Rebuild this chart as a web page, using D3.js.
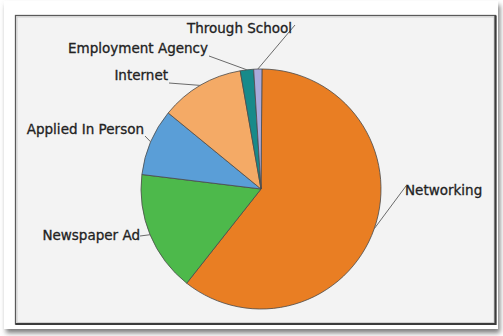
<!DOCTYPE html>
<html>
<head>
<meta charset="utf-8">
<script src="https://cdn.jsdelivr.net/npm/d3@7"></script>
<style>
  html, body { margin: 0; padding: 0; background: #ffffff; }
  svg { display: block; }
  text { font-family: "DejaVu Sans", Verdana, sans-serif; }
</style>
</head>
<body>
<svg id="chart" width="503" height="336"></svg>
<script>
// Ways people found their job (share of respondents, %)
const categories = ["Networking", "Newspaper Ad", "Applied In Person", "Internet", "Employment Agency", "Through School"];
const shares     = [60.5, 16.3, 9.0, 11.3, 1.8, 1.1];
const colors     = ["#e97e23", "#4db94b", "#5a9ed7", "#f4aa66", "#178a8a", "#a9aadb"];

// Label placement: text anchor point (tx, ty), alignment, and leader start (lx, ly)
const labelLayout = [
  { tx: 405, ty: 195, anchor: "start", lx: 406, ly: 186 },
  { tx: 140, ty: 240, anchor: "end",   lx: 140, ly: 236 },
  { tx: 144, ty: 134, anchor: "end",   lx: 145, ly: 136 },
  { tx: 168, ty: 80,  anchor: "end",   lx: 169, ly: 83 },
  { tx: 208, ty: 53,  anchor: "end",   lx: 209, ly: 56 },
  { tx: 187, ty: 33,  anchor: "start", lx: 295, ly: 25 }
];

const svg = d3.select("#chart");
const W = 503, H = 336;

// Card with soft shadow
const defs = svg.append("defs");
const f = defs.append("filter").attr("id", "shadow")
  .attr("x", "-5%").attr("y", "-5%").attr("width", "110%").attr("height", "115%");
f.append("feDropShadow").attr("dx", 2).attr("dy", 4).attr("stdDeviation", 2.5)
  .attr("flood-color", "#666").attr("flood-opacity", 0.85);

svg.append("rect").attr("x", 0).attr("y", 0).attr("width", W).attr("height", H).attr("fill", "#ffffff");
svg.append("rect").attr("x", 4).attr("y", 1).attr("width", 494).attr("height", 328)
  .attr("fill", "#ffffff").attr("filter", "url(#shadow)");

// Plot frame
const box = { x: 15.5, y: 15.5, w: 480, h: 308.5 };
svg.append("rect").attr("x", box.x).attr("y", box.y).attr("width", box.w).attr("height", box.h)
  .attr("fill", "#f3f3f3").attr("stroke", "#5a5a5a").attr("stroke-width", 1.3);
svg.append("rect").attr("x", box.x + 1.5).attr("y", box.y + 1.5).attr("width", box.w - 3).attr("height", box.h - 3)
  .attr("fill", "none").attr("stroke", "#d0d0d0").attr("stroke-width", 1);
svg.append("path")
  .attr("d", `M${box.x + box.w},${box.y} V${box.y + box.h} H${box.x}`)
  .attr("fill", "none").attr("stroke", "#3c3c3c").attr("stroke-width", 2.2);

// Pie
const cx = 261, cy = 189, R = 120;
const data = categories.map((c, i) => ({ name: c, value: shares[i], color: colors[i], layout: labelLayout[i] }));
const pie = d3.pie().value(d => d.value).sort(null).startAngle(0.008).endAngle(0.008 + 2 * Math.PI);
const arcs = pie(data);
const arc = d3.arc().innerRadius(0).outerRadius(R);

const g = svg.append("g").attr("transform", `translate(${cx},${cy})`);
g.selectAll("path.slice").data(arcs).join("path")
  .attr("class", "slice")
  .attr("d", arc)
  .attr("fill", d => d.data.color)
  .attr("stroke", "#4a4a4a")
  .attr("stroke-width", 0.8)
  .attr("stroke-linejoin", "round");

// Leader lines from slice rim midpoint to label
const rim = d => {
  const a = (d.startAngle + d.endAngle) / 2;
  return [cx + R * Math.sin(a), cy - R * Math.cos(a)];
};
svg.selectAll("line.leader").data(arcs).join("line")
  .attr("class", "leader")
  .attr("x1", d => d.data.layout.lx).attr("y1", d => d.data.layout.ly)
  .attr("x2", d => rim(d)[0]).attr("y2", d => rim(d)[1])
  .attr("stroke", "#6a6a6a").attr("stroke-width", 1);

svg.selectAll("text.lbl").data(arcs).join("text")
  .attr("class", "lbl")
  .attr("x", d => d.data.layout.tx).attr("y", d => d.data.layout.ty)
  .attr("text-anchor", d => d.data.layout.anchor)
  .attr("font-size", 13.5)
  .attr("fill", "#222")
  .attr("stroke", "#222")
  .attr("stroke-width", 0.3)
  .text(d => d.data.name);
</script>
</body>
</html>
